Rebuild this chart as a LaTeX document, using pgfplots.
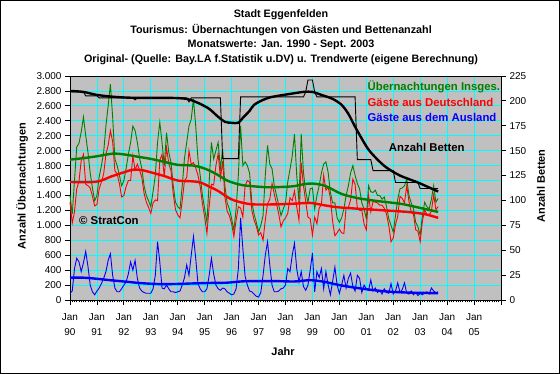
\documentclass[border=0pt]{standalone}
\usepackage{pgfplots}
\pgfplotsset{compat=1.18}
\usepackage{pgfplotstable}
\usepackage{fontspec}
\setmainfont{Liberation Sans}
\definecolor{xlgreen}{RGB}{0,128,0}
\definecolor{xlred}{RGB}{255,0,0}
\definecolor{xlblue}{RGB}{0,0,255}
\definecolor{xlgray}{RGB}{192,192,192}
\definecolor{xlcyan}{RGB}{0,255,255}
\pgfplotstableread{
m G R B
0 1400 1310 90
1 1150 1030 120
2 1600 1180 420
3 2050 1490 560
4 2100 1590 510
5 2250 1870 380
6 2450 1950 500
7 2200 1550 650
8 1980 1530 450
9 1700 1500 200
10 1500 1390 110
11 1330 1260 70
12 1400 1280 120
13 1650 1490 160
14 1800 1580 220
15 1980 1690 290
16 2330 1950 380
17 2600 2070 530
18 2890 2270 620
19 2450 2120 330
20 1890 1730 160
21 1800 1690 110
22 1670 1560 110
23 1530 1380 150
24 1600 1400 200
25 1760 1520 240
26 1950 1600 350
27 2110 1600 510
28 2330 1930 400
29 2270 1740 530
30 2110 1820 290
31 1900 1740 160
32 1760 1640 120
33 1530 1430 100
34 1400 1310 90
35 1330 1240 90
36 1250 1160 90
37 1450 1300 150
38 1670 1340 330
39 2110 1330 780
40 2380 1870 510
41 2110 1950 160
42 1800 1650 150
43 2240 2040 200
44 1980 1830 150
45 1840 1730 110
46 1530 1420 110
47 1310 1210 100
48 1250 1140 110
49 1220 1100 120
50 1530 1330 200
51 1900 1600 300
52 2110 1640 470
53 2330 2000 330
54 2420 1820 600
55 2690 1840 850
56 2330 1770 560
57 1890 1670 220
58 1670 1520 150
59 1400 1290 110
60 1220 1110 110
61 1040 890 150
62 1580 1250 330
63 2110 1550 560
64 1890 1540 350
65 2000 1800 200
66 2110 1960 150
67 1760 1630 130
68 2020 1860 160
69 1530 1380 150
70 1300 1190 110
71 1220 1130 90
72 1090 1020 70
73 930 850 80
74 1220 1070 150
75 1670 1250 420
76 2330 1230 1100
77 1800 1110 690
78 1850 1530 320
79 1800 1600 200
80 1700 1580 120
81 1310 1200 110
82 1150 1070 80
83 1040 990 50
84 910 870 40
85 1000 900 100
86 1130 800 330
87 1670 1070 600
88 2070 1290 780
89 1820 1350 470
90 1760 1560 200
91 1530 1420 110
92 1400 1290 110
93 1270 1150 120
94 1130 980 150
95 1220 1060 160
96 1300 1100 200
97 1580 1160 420
98 1750 1370 380
99 1930 1330 600
100 2220 1460 760
101 1670 1250 420
102 1310 1070 240
103 2220 1840 380
104 1710 1530 180
105 1450 1320 130
106 1310 1110 200
107 1490 1090 400
108 1500 870 630
109 1220 1110 110
110 1400 1020 380
111 1530 1230 300
112 1700 1280 420
113 1820 1670 150
114 1850 1470 380
115 1710 1510 200
116 1440 1370 70
117 1300 1050 250
118 1300 860 440
119 1100 900 200
120 1040 950 90
121 1100 900 200
122 1220 890 330
123 1400 1240 160
124 1530 1240 290
125 1700 1340 360
126 1800 1620 180
127 1670 1550 120
128 1560 1230 330
129 1490 1200 290
130 1300 1200 100
131 1220 1020 200
132 1090 940 150
133 1530 1400 130
134 1450 1180 270
135 1440 1320 120
136 1470 1310 160
137 1400 1300 100
138 1400 1270 130
139 1350 1270 80
140 1380 1230 150
141 1250 1150 100
142 1090 1000 90
143 1000 780 220
144 910 830 80
145 1130 1010 120
146 1350 1120 230
147 1490 1390 100
148 1500 1360 140
149 1530 1300 230
150 1620 1530 90
151 1400 1320 80
152 1300 1180 120
153 1220 1150 70
154 1040 940 100
155 980 920 60
156 870 780 90
157 1130 1060 70
158 1310 1210 100
159 1250 1140 110
160 1220 1140 80
161 1350 1190 160
162 1530 1410 120
163 1310 1210 100
164 1360 1250 110
}\monthly
\begin{document}
\begin{tikzpicture}
\useasboundingbox (0bp,0bp) rectangle (560bp,374bp);
\draw[black,line width=1bp,fill=white] (0.5bp,0.5bp) rectangle (559.5bp,373.5bp);
\begin{scope}[every node/.style={font=\fontsize{10.8}{12}\selectfont\bfseries,inner sep=0pt}]
\node at (281bp,359bp) {Stadt Eggenfelden};
\node at (281bp,344bp) {Tourismus: Übernachtungen von Gästen und Bettenanzahl};
\node at (281bp,329.5bp) {Monatswerte: Jan. 1990 - Sept. 2003};
\node at (281bp,314.5bp) {Original- (Quelle: Bay.LA f.Statistik u.DV) u. Trendwerte (eigene Berechnung)};
\end{scope}
\node[font=\fontsize{11}{13}\selectfont\bfseries,rotate=90,inner sep=0pt] at (22bp,188bp) {Anzahl Übernachtungen};
\node[font=\fontsize{11}{13}\selectfont\bfseries,rotate=90,inner sep=0pt] at (541bp,188bp) {Anzahl Betten};
\node[font=\fontsize{11}{13}\selectfont\bfseries,inner sep=0pt] at (283bp,22bp) {Jahr};
\begin{axis}[
  at={(70bp,74bp)}, anchor=south west, scale only axis,
  width=431bp, height=224bp,
  xmin=0, xmax=192, ymin=0, ymax=3000,
  axis background/.style={fill=xlgray},
  axis line style={black, line width=0.8bp},
  grid=major, major grid style={xlcyan, line width=0.8bp},
  xtick={0,12,...,192},
  xticklabels={{Jan\\90},{Jan\\91},{Jan\\92},{Jan\\93},{Jan\\94},{Jan\\95},{Jan\\96},{Jan\\97},{Jan\\98},{Jan\\99},{Jan\\00},{Jan\\01},{Jan\\02},{Jan\\03},{Jan\\04},{Jan\\05},{}},
  xticklabel style={align=center, font=\fontsize{10}{15}\selectfont, yshift=-5bp},
  minor x tick num=11,
  ytick={0,200,...,3000},
  scaled y ticks=false,
  yticklabel style={font=\fontsize{10}{12}\selectfont, /pgf/number format/.cd, 1000 sep={.}, assume math mode=true},
  tick align=outside, tick pos=left,
  major tick length=5bp, minor tick length=2.5bp,
  tick style={black, line width=0.8bp},
  clip=false,
]
\addplot[xlgreen, line width=0.9bp] table[x=m,y=G] {\monthly};
\addplot[xlred, line width=0.9bp] table[x=m,y=R] {\monthly};
\addplot[xlblue, line width=0.9bp] table[x=m,y=B] {\monthly};
\addplot[xlgreen, line width=2.4bp, smooth] coordinates {
(0,1880) (6,1900) (12,1925) (19,1960) (24,1950) (30,1920) (36,1890) (42,1850) (48,1810) (55,1800) (60,1760) (65,1690) (70,1600) (75,1550) (79,1530) (88,1510) (95,1515) (100,1525) (104,1550) (108,1560) (113,1535) (117,1480) (121,1420) (128,1365) (137,1325) (147,1290) (152,1260) (158,1220) (164,1180)};
\addplot[xlred, line width=2.4bp, smooth] coordinates {
(0,1580) (10,1580) (14,1600) (18,1650) (24,1710) (28,1745) (32,1740) (36,1710) (42,1660) (48,1600) (54,1590) (58,1575) (62,1520) (66,1460) (70,1380) (73,1335) (78,1295) (82,1280) (90,1280) (100,1290) (107,1300) (113,1270) (120,1240) (135,1210) (150,1180) (158,1150) (164,1100)};
\addplot[xlblue, line width=2.4bp, smooth] coordinates {
(0,300) (5,300) (10,290) (18,265) (25,245) (32,225) (40,213) (48,215) (55,222) (62,228) (70,232) (77,250) (85,253) (92,253) (100,248) (107,265) (113,245) (120,200) (127,165) (135,133) (142,112) (150,100) (157,95) (164,90)};
\node[anchor=west, inner sep=0pt, font=\fontsize{11.4}{13}\selectfont\bfseries, text=xlgreen] at (axis cs:132.5,2850) {Übernachtungen Insges.};
\node[anchor=west, inner sep=0pt, font=\fontsize{11.4}{13}\selectfont\bfseries, text=xlred] at (axis cs:132.5,2640) {Gäste aus Deutschland};
\node[anchor=west, inner sep=0pt, font=\fontsize{11.4}{13}\selectfont\bfseries, text=xlblue] at (axis cs:132.5,2440) {Gäste aus dem Ausland};
\node[anchor=west, inner sep=0pt, font=\fontsize{11.4}{13}\selectfont\bfseries] at (axis cs:142,2040) {Anzahl Betten};
\node[anchor=west, inner sep=0pt, font=\fontsize{11.4}{13}\selectfont\bfseries] at (axis cs:4,1060) {© StratCon};
\end{axis}
\begin{axis}[
  at={(70bp,74bp)}, anchor=south west, scale only axis,
  width=431bp, height=224bp,
  xmin=0, xmax=192, ymin=0, ymax=225,
  axis y line*=right, axis x line=none,
  ytick={0,25,...,225},
  yticklabel style={font=\fontsize{10}{12}\selectfont, /pgf/number format/assume math mode=true},
  tick align=outside, major tick length=5bp,
  axis line style={black, line width=0.8bp},
  tick style={black, line width=0.8bp},
]
\addplot[black, line width=0.9bp] coordinates {
(0,209) (6,209) (7,205) (12,205) (13,203) (28,203) (29,201) (30,203) (52,203) (53,199) (54,203) (67,203) (68,142) (75,142) (76,204) (104,204) (105,209) (106,221) (108,221) (109,209) (110,204) (127,204) (128,141) (134,141) (135,130) (144,130) (145,118) (155,118) (156,112) (164,112)};
\addplot[black, line width=2.4bp, smooth] coordinates {
(0,210) (6,209) (12,206) (20,204) (30,203) (45,203) (52,202) (56,199) (58,197) (62,192) (66,184) (69,179) (72,178) (75,178) (77,183) (80,190) (82,196) (86,201) (90,204) (98,207) (104,209) (108,209) (112,206) (117,202) (121,196) (124,187) (127,174) (130,162) (133,151) (137,141) (141,133) (147,125) (155,118) (160,113) (164,109)};
\end{axis}
\end{tikzpicture}
\end{document}
